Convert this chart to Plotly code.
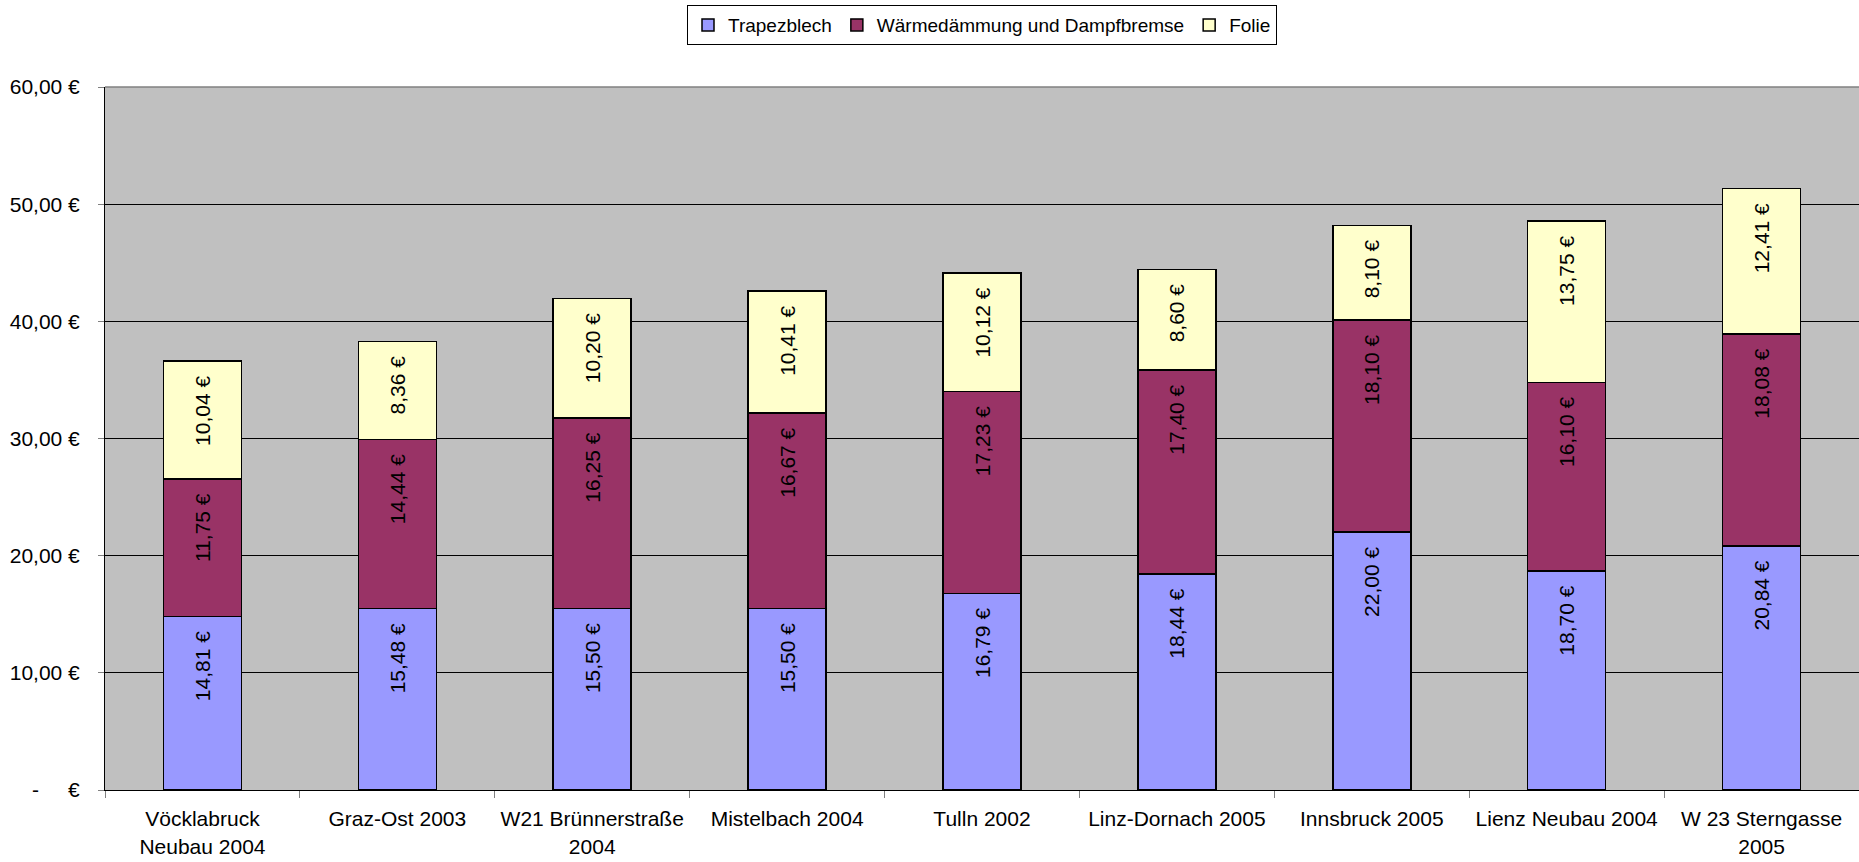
import plotly.graph_objects as go

categories = ["Vöcklabruck<br>Neubau 2004", "Graz-Ost 2003", "W21 Brünnerstraße<br>2004",
              "Mistelbach 2004", "Tulln 2002", "Linz-Dornach 2005", "Innsbruck 2005",
              "Lienz Neubau 2004", "W 23 Sterngasse<br>2005"]
trapezblech = [14.81, 15.48, 15.50, 15.50, 16.79, 18.44, 22.00, 18.70, 20.84]
waermedaemmung = [11.75, 14.44, 16.25, 16.67, 17.23, 17.40, 18.10, 16.10, 18.08]
folie = [10.04, 8.36, 10.20, 10.41, 10.12, 8.60, 8.10, 13.75, 12.41]

series = [
    ("Trapezblech", trapezblech, "#9999FF"),
    ("Wärmedämmung und Dampfbremse", waermedaemmung, "#993366"),
    ("Folie", folie, "#FFFFCC"),
]

tick_vals = [0, 10, 20, 30, 40, 50, 60]
tick_text = ["-\u00a0\u00a0\u00a0\u00a0\u00a0€", "10,00 €", "20,00 €", "30,00 €", "40,00 €", "50,00 €", "60,00 €"]

def fmt(v):
    return f"{v:.2f}".replace(".", ",") + " €\u00a0\u00a0"

FONT = "Liberation Sans, Arial, sans-serif"

fig = go.Figure()
for name, vals, color in series:
    fig.add_trace(go.Bar(
        x=categories, y=vals, name=name,
        marker=dict(color=color, line=dict(color="black", width=1.5)),
        text=[fmt(v) for v in vals],
        textposition="inside", textangle=-90, insidetextanchor="end",
        textfont=dict(family=FONT, size=21, color="black"),
        constraintext="none",
        hoverinfo="skip",
    ))

fig.update_layout(
    barmode="stack", bargap=0.6,
    width=1859, height=862,
    margin=dict(l=105, r=0, t=87, b=72, pad=0),
    paper_bgcolor="white", plot_bgcolor="#C0C0C0",
    font=dict(family=FONT, size=21, color="black"),
    showlegend=True,
    legend=dict(orientation="h", x=0.5, xanchor="center", y=1.1166, yanchor="top",
                bgcolor="white", bordercolor="black", borderwidth=1,
                font=dict(family=FONT, size=19), itemwidth=30, traceorder="normal"),
    xaxis=dict(showgrid=False, showline=True, linecolor="black", linewidth=1,
               ticks="outside", tickson="boundaries", ticklen=7, tickcolor="#808080",
               ticklabelstandoff=10,
               tickfont=dict(family=FONT, size=21), fixedrange=True),
    yaxis=dict(range=[0, 60], tickvals=tick_vals, ticktext=tick_text,
               showgrid=True, gridcolor="black", gridwidth=1,
               showline=True, linecolor="black", linewidth=1,
               ticks="outside", ticklen=6, tickcolor="#808080",
               ticklabelstandoff=14, zeroline=False,
               tickfont=dict(family=FONT, size=21), fixedrange=True),
    shapes=[dict(type="line", xref="paper", yref="paper", x0=0, x1=1, y0=1, y1=1,
                 line=dict(color="#808080", width=1.5))],
)

fig.write_html("out.html", config={"displayModeBar": False},
               post_script="document.body.style.margin='0';")
